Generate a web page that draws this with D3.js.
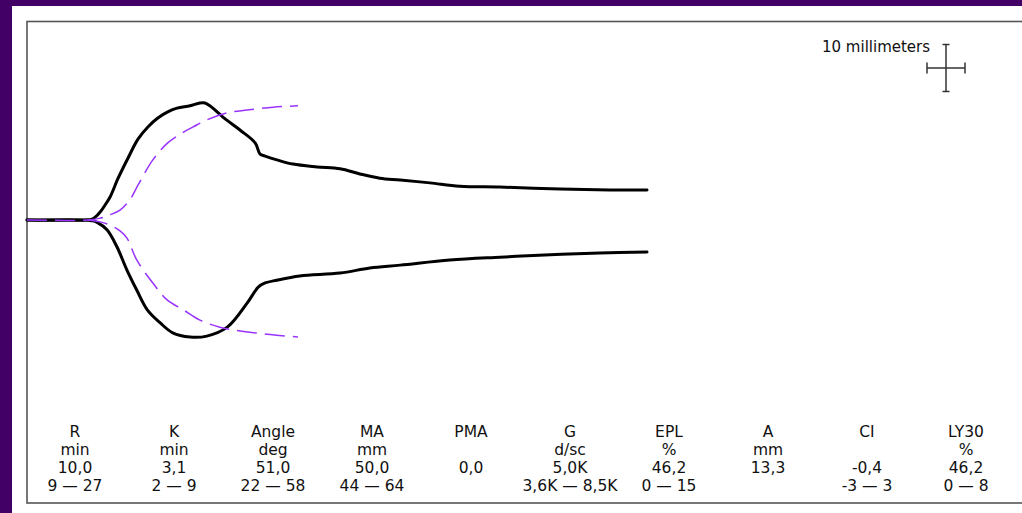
<!DOCTYPE html>
<html>
<head>
<meta charset="utf-8">
<script src="https://cdn.jsdelivr.net/npm/d3@7"></script>
<style>
  html, body { margin: 0; padding: 0; background: #420066; }
  svg { display: block; }
</style>
</head>
<body>
<svg id="chart" width="1022" height="513"></svg>
<script>
// ---- data (time in minutes, amplitude in mm from centre) ----
const upperTime = [0, 9.6, 10.4, 11, 11.8, 12.6, 13.4, 14.7, 16.3, 17.9, 19.5, 21.1, 22.7, 24.2, 26.3, 27.9, 28.7, 29.5, 31.6, 34.4, 36.8, 37.6, 38.4, 40.3, 42.9, 46.8, 50.5, 53.7, 56.9, 60.2, 65, 69.8, 76.3, 86, 94, 100];
const upperAmp  = [0, 0, 0.15, 0.6, 1.7, 3.2, 4.9, 8.9, 13.2, 17.2, 19.8, 21.7, 23.0, 23.8, 24.3, 24.9, 24.9, 24.3, 21.9, 19.1, 16.4, 14.0, 13.6, 12.8, 11.9, 11.3, 10.9, 9.8, 8.9, 8.5, 7.9, 7.2, 7.0, 6.6, 6.4, 6.4];

const lowerTime = [0, 9.6, 10.4, 11.3, 12.9, 14.5, 16.1, 17.7, 19.4, 21.5, 23.5, 26.3, 29.0, 32.3, 35.5, 37.3, 38.4, 40.3, 44.0, 50.5, 55.3, 60.2, 68.2, 76.3, 84.4, 92.4, 100];
const lowerAmp  = [0, 0, -0.15, -0.5, -2.1, -5.7, -10.6, -14.9, -19.1, -21.9, -24.0, -24.9, -24.7, -22.8, -17.7, -14.3, -13.4, -12.8, -11.9, -11.3, -10.2, -9.6, -8.5, -7.9, -7.4, -7.0, -6.8];

const refUpperTime = [0, 9.8, 11.8, 13.4, 15, 16.6, 17.9, 20.3, 22.7, 25, 26.8, 29.0, 32.3, 35.5, 39.7, 43.7];
const refUpperAmp  = [0, 0, 0.4, 1.1, 2.1, 4.3, 7.4, 12.8, 16.4, 18.5, 19.8, 21.3, 22.8, 23.4, 24.0, 24.3];
const refLowerTime = [9.8, 11.8, 13.4, 15, 16.1, 17.7, 20.3, 22.6, 25.2, 27.9, 31.1, 34.4, 38.7, 43.7];
const refLowerAmp  = [0, -0.4, -1.1, -2.3, -3.8, -8.5, -13.4, -17.0, -19.1, -21.3, -22.8, -23.6, -24.3, -24.9];

const scaleLabel = "10 millimeters";
const scaleMM = 10;

const paramNames  = ["R", "K", "Angle", "MA", "PMA", "G", "EPL", "A", "CI", "LY30"];
const paramUnits  = ["min", "min", "deg", "mm", "", "d/sc", "%", "mm", "", "%"];
const paramValues = ["10,0", "3,1", "51,0", "50,0", "0,0", "5,0K", "46,2", "13,3", "-0,4", "46,2"];
const paramRanges = ["9 — 27", "2 — 9", "22 — 58", "44 — 64", "", "3,6K — 8,5K", "0 — 15", "", "-3 — 3", "0 — 8"];

// ---- drawing ----
const svg = d3.select("#chart");
const font = "'DejaVu Sans', Verdana, sans-serif";

// white panel
svg.append("rect").attr("x", 12).attr("y", 6).attr("width", 1022).attr("height", 520).attr("fill", "#ffffff");
// inner frame
svg.append("rect").attr("x", 27).attr("y", 21.5).attr("width", 1010).attr("height", 481.5)
  .attr("fill", "none").attr("stroke", "#555").attr("stroke-width", 1.6);

const x = d3.scaleLinear().domain([0, 100]).range([27, 647]);
const y = d3.scaleLinear().domain([-25, 25]).range([337.5, 102.5]);

const line = d3.line().x(d => x(d[0])).y(d => y(d[1])).curve(d3.curveCatmullRom.alpha(0.5));
const zip = (a, b) => a.map((v, i) => [v, b[i]]);

// black traces
[zip(upperTime, upperAmp), zip(lowerTime, lowerAmp)].forEach(pts => {
  svg.append("path").attr("d", line(pts)).attr("fill", "none")
    .attr("stroke", "#000").attr("stroke-width", 3)
    .attr("stroke-linejoin", "round").attr("stroke-linecap", "round");
});

// reference dashed traces
[zip(refUpperTime, refUpperAmp), zip(refLowerTime, refLowerAmp)].forEach(pts => {
  svg.append("path").attr("d", line(pts)).attr("fill", "none")
    .attr("stroke", "#9933ff").attr("stroke-width", 1.5)
    .attr("stroke-dasharray", "20,8");
});

// scale marker
const cx = 946, cy = 68;
const half = (y(0) - y(scaleMM)) / 2;
const hHalf = 19;
const g = svg.append("g").attr("stroke", "#333").attr("stroke-width", 1.5);
g.append("line").attr("x1", cx).attr("x2", cx).attr("y1", cy - half).attr("y2", cy + half);
g.append("line").attr("x1", cx - hHalf).attr("x2", cx + hHalf).attr("y1", cy).attr("y2", cy);
g.append("line").attr("x1", cx - 3.5).attr("x2", cx + 3.5).attr("y1", cy - half).attr("y2", cy - half);
g.append("line").attr("x1", cx - 3.5).attr("x2", cx + 3.5).attr("y1", cy + half).attr("y2", cy + half);
g.append("line").attr("x1", cx - hHalf).attr("x2", cx - hHalf).attr("y1", cy - 5.5).attr("y2", cy + 5.5);
g.append("line").attr("x1", cx + hHalf).attr("x2", cx + hHalf).attr("y1", cy - 5.5).attr("y2", cy + 5.5);
svg.append("text").attr("x", 822).attr("y", 51.5).attr("font-family", font).attr("font-size", 15)
  .attr("fill", "#111").text(scaleLabel);

// parameter table
const col = d3.scaleBand().domain(paramNames).range([25.5, 1015.5]);
const rows = [paramNames, paramUnits, paramValues, paramRanges];
const baselines = [437, 455, 473, 491];
rows.forEach((row, r) => {
  svg.append("g").selectAll("text").data(row).join("text")
    .attr("x", (d, i) => col(paramNames[i]) + col.bandwidth() / 2)
    .attr("y", baselines[r])
    .attr("text-anchor", "middle")
    .attr("font-family", font).attr("font-size", 15.5).attr("fill", "#111")
    .text(d => d);
});
</script>
</body>
</html>
